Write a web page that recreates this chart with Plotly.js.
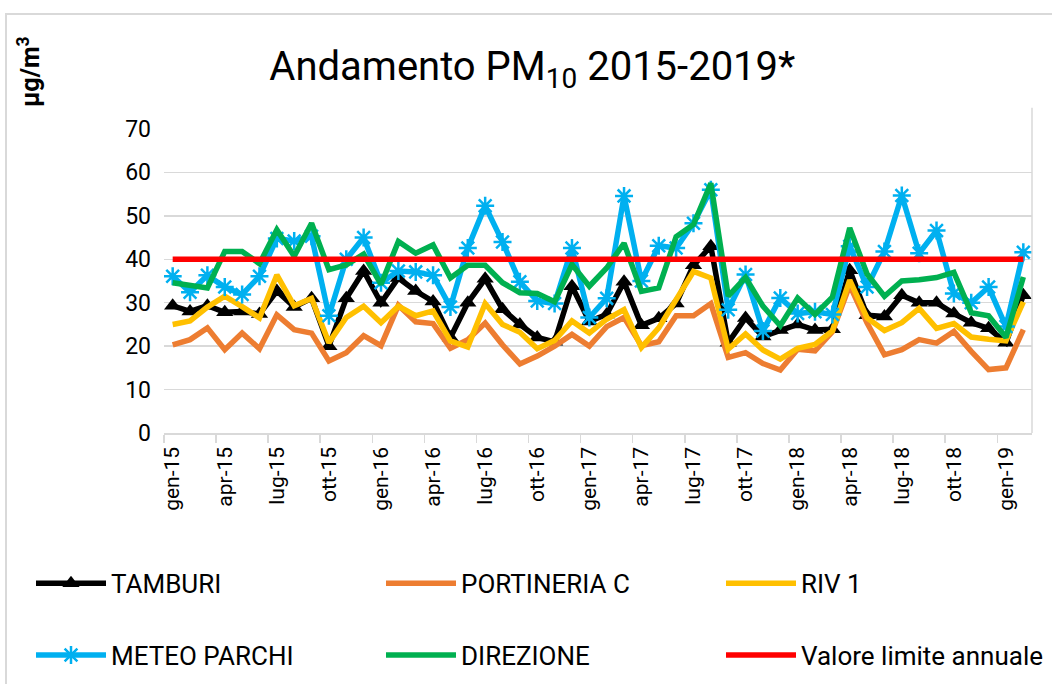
<!DOCTYPE html>
<html>
<head>
<meta charset="utf-8">
<script src="https://cdn.plot.ly/plotly-3.0.1.min.js"></script>
<style>
  html, body { margin: 0; padding: 0; background: #fff; }
  #chart { width: 1052px; height: 684px; position: relative; }
  #frame { position: absolute; left: 5px; top: 13px; width: 1060px; height: 700px;
           border-left: 2px solid #d9d9d9; border-top: 2px solid #d9d9d9; pointer-events: none; }
</style>
</head>
<body>
<div id="chart"></div>
<div id="frame"></div>
<script>
const months = [
  'gen-15','feb-15','mar-15','apr-15','mag-15','giu-15','lug-15','ago-15','set-15','ott-15','nov-15','dic-15',
  'gen-16','feb-16','mar-16','apr-16','mag-16','giu-16','lug-16','ago-16','set-16','ott-16','nov-16','dic-16',
  'gen-17','feb-17','mar-17','apr-17','mag-17','giu-17','lug-17','ago-17','set-17','ott-17','nov-17','dic-17',
  'gen-18','feb-18','mar-18','apr-18','mag-18','giu-18','lug-18','ago-18','set-18','ott-18','nov-18','dic-18',
  'gen-19','feb-19'
];

const tamburi = [
  29.3,28.0,29.3,27.8,28.0,27.4,32.7,29.0,31.0,20.0,31.0,37.3,
  30.0,35.7,32.7,30.3,22.0,30.0,35.5,28.5,25.0,22.0,21.0,33.8,
  25.7,27.3,34.8,24.8,26.4,29.8,38.6,43.0,20.8,26.5,22.2,23.7,
  25.0,23.7,23.9,37.5,27.1,26.8,31.7,30.0,30.0,27.5,25.4,24.1,
  20.8,31.7
];

const portineriaC = [
  20.3,21.5,24.2,19.2,23.0,19.4,27.2,23.8,23.0,16.6,18.5,22.4,
  20.1,29.4,25.6,25.2,19.5,21.5,25.3,20.3,15.9,17.7,20.0,22.7,
  20.0,24.5,26.6,20.1,21.0,27.0,27.0,29.8,17.4,18.5,16.0,14.5,
  19.3,18.9,23.3,34.0,25.3,18.0,19.2,21.5,20.7,23.4,18.8,14.6,
  15.0,23.8
];

const riv1 = [
  25.0,25.8,29.0,31.5,29.1,26.5,36.4,29.3,31.0,20.8,26.6,29.2,
  25.4,29.2,27.0,28.1,21.2,19.8,29.8,25.0,23.2,19.4,21.3,25.8,
  23.0,26.2,28.4,19.7,24.2,30.7,37.2,35.7,19.3,22.8,19.1,17.0,
  19.5,20.4,23.5,35.2,26.5,23.6,25.4,28.7,24.1,25.2,22.1,21.6,
  21.2,30.2
];

const meteoParchi = [
  36.1,32.4,36.3,33.6,31.9,36.1,44.8,44.2,45.3,27.0,40.0,45.0,
  34.6,37.3,37.1,36.3,29.0,42.6,52.3,44.0,34.8,30.4,29.8,42.6,
  26.6,31.0,54.6,35.0,43.1,42.6,48.3,56.0,28.4,36.5,23.5,31.1,
  27.5,27.9,27.3,43.0,33.6,41.8,54.7,41.4,46.6,32.1,30.0,33.6,
  24.5,41.6
];

const direzione = [
  34.6,34.0,33.4,41.8,41.8,39.0,46.8,40.7,48.3,37.6,38.7,41.2,
  34.2,44.1,41.4,43.3,35.7,38.6,38.6,34.6,32.3,32.1,30.2,38.8,
  33.8,38.0,43.7,32.6,33.4,45.2,48.0,57.5,31.5,35.8,29.2,24.7,
  31.1,27.3,31.3,47.2,36.6,31.5,35.0,35.3,35.8,37.0,27.7,27.0,
  22.0,35.9
];

const limitValue = 40;
const limitX = [months[0], months[months.length - 1]];
const limitY = [limitValue, limitValue];

const seriesNames = ['TAMBURI','PORTINERIA C','RIV 1','METEO PARCHI','DIREZIONE','Valore limite annuale'];
const colors = ['#000000','#ED7D31','#FFC000','#00B0F0','#00B050','#FF0000'];

const FONT = 'Roboto, "Liberation Sans", sans-serif';
const LW = 5.5;

const traces = [
  { x: months, y: tamburi, name: seriesNames[0], type: 'scatter', mode: 'lines+markers',
    line: { color: colors[0], width: LW },
    marker: { symbol: 'triangle-up', size: 15, color: colors[0] }, legend: 'legend' },
  { x: months, y: portineriaC, name: seriesNames[1], type: 'scatter', mode: 'lines',
    line: { color: colors[1], width: LW }, legend: 'legend2' },
  { x: months, y: riv1, name: seriesNames[2], type: 'scatter', mode: 'lines',
    line: { color: colors[2], width: LW }, legend: 'legend3' },
  { x: months, y: meteoParchi, name: seriesNames[3], type: 'scatter', mode: 'lines+markers',
    line: { color: colors[3], width: LW },
    marker: { symbol: 'asterisk-open', size: 15, color: colors[3], line: { color: colors[3], width: 2.5 } },
    legend: 'legend4' },
  { x: months, y: direzione, name: seriesNames[4], type: 'scatter', mode: 'lines',
    line: { color: colors[4], width: LW }, legend: 'legend5' },
  { x: limitX, y: limitY, name: seriesNames[5], type: 'scatter', mode: 'lines',
    line: { color: colors[5], width: LW }, legend: 'legend6' }
];

const PL = 164, PW = 868, PB = 433.5, PH = 304.5;
function px2x(px) { return (px - PL) / PW; }
function px2y(py) { return (PB - py) / PH; }

function leg(pxX, pxY) {
  return {
    orientation: 'h', xanchor: 'left', yanchor: 'middle',
    x: px2x(pxX), y: px2y(pxY),
    font: { family: FONT, size: 26, color: '#000' },
    itemwidth: 70,
    bgcolor: 'rgba(0,0,0,0)'
  };
}

const layout = {
  width: 1052, height: 684,
  paper_bgcolor: '#ffffff', plot_bgcolor: '#ffffff',
  margin: { l: 164, r: 20, t: 129, b: 250.5, pad: 0, autoexpand: false },
  font: { family: FONT, color: '#000' },
  title: {
    text: 'Andamento PM<sub>10</sub> 2015-2019*',
    font: { family: FONT, size: 40, color: '#000' },
    x: 0.506, xref: 'container', xanchor: 'center',
    y: 1 - 66 / 684, yref: 'container', yanchor: 'middle'
  },
  xaxis: {
    type: 'category', categoryorder: 'array', categoryarray: months,
    tickmode: 'linear', tick0: 0, dtick: 3,
    tickson: 'boundaries', ticks: 'outside', ticklen: 8, tickwidth: 1.5, tickcolor: '#d9d9d9',
    showline: true, linecolor: '#d9d9d9', linewidth: 1.5,
    showgrid: false, zeroline: false,
    tickangle: -90, ticklabelstandoff: 4,
    tickfont: { family: FONT, size: 21, color: '#000' },
    range: [-0.5, 49.5]
  },
  yaxis: {
    range: [0, 70], tickmode: 'linear', tick0: 0, dtick: 10,
    showgrid: true, gridcolor: '#d9d9d9', gridwidth: 1.5,
    zeroline: false, showline: false, ticks: '',
    ticklabelstandoff: 12,
    tickfont: { family: FONT, size: 23, color: '#000' }
  },
  shapes: [
    { type: 'line', xref: 'paper', yref: 'paper', x0: 1, x1: 1, y0: 0, y1: 1.07,
      line: { color: '#d9d9d9', width: 1.5 } }
  ],
  annotations: [
    { text: '<b>µg/m<sup>3</sup></b>', xref: 'paper', yref: 'paper',
      x: px2x(29), y: px2y(72), xanchor: 'center', yanchor: 'middle',
      textangle: -90, showarrow: false, font: { family: FONT, size: 25, color: '#000' } }
  ],
  showlegend: true,
  legend: leg(31, 584),
  legend2: leg(381, 584),
  legend3: leg(721, 584),
  legend4: leg(31, 656),
  legend5: leg(381, 656),
  legend6: leg(721, 656)
};

Plotly.newPlot('chart', traces, layout, { displayModeBar: false, staticPlot: true });
</script>
</body>
</html>
